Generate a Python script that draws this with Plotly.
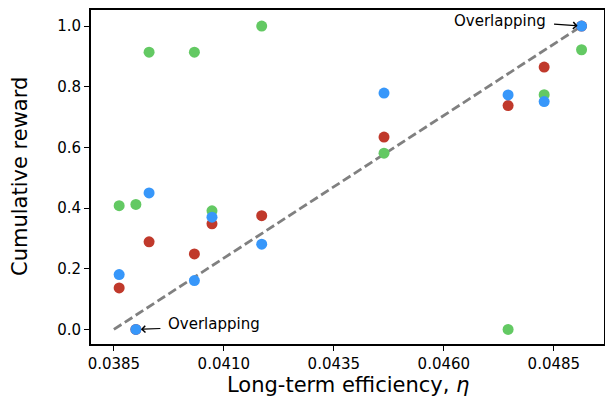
import plotly.graph_objects as go

# Data
eta = [0.03862, 0.03900, 0.03930, 0.04033, 0.04073, 0.04186, 0.04464, 0.04746, 0.04828, 0.04913]
reward_green = [0.408, 0.412, 0.914, 0.914, 0.391, 1.000, 0.581, 0.000, 0.774, 0.922]
reward_red = [0.137, 0.000, 0.289, 0.249, 0.348, 0.375, 0.634, 0.738, 0.865, 1.000]
reward_blue = [0.181, 0.000, 0.450, 0.161, 0.370, 0.281, 0.779, 0.773, 0.751, 1.000]
ref_x = [0.0385, 0.04913]
ref_y = [0.0, 1.0]
x_ticks = [0.0385, 0.0410, 0.0435, 0.0460, 0.0485]
x_tick_text = ["0.0385", "0.0410", "0.0435", "0.0460", "0.0485"]
y_ticks = [0.0, 0.2, 0.4, 0.6, 0.8, 1.0]
y_tick_text = ["0.0", "0.2", "0.4", "0.6", "0.8", "1.0"]

FONT = "DejaVu Sans"

fig = go.Figure()
fig.add_trace(go.Scatter(x=ref_x, y=ref_y, mode="lines",
                         line=dict(color="#808080", width=2.8, dash="9px,4px"),
                         showlegend=False, hoverinfo="skip"))
for vals, col in [(reward_green, "#63c963"), (reward_red, "#c0392b"), (reward_blue, "#3797fa")]:
    fig.add_trace(go.Scatter(x=eta, y=vals, mode="markers",
                             marker=dict(color=col, size=11, line=dict(width=0)),
                             showlegend=False))

fig.add_annotation(x=eta[-1], y=reward_blue[-1], text="", showarrow=True,
                   arrowhead=4, arrowsize=1.1, arrowwidth=1.2, arrowcolor="black",
                   ax=-29, ay=-2, standoff=4)
fig.add_annotation(x=eta[-1], y=reward_blue[-1], text="Overlapping", showarrow=False,
                   xanchor="right", yanchor="middle", xshift=-34, yshift=5,
                   font=dict(family=FONT, size=15, color="black"))
fig.add_annotation(x=eta[1], y=reward_blue[1], text="", showarrow=True,
                   arrowhead=4, arrowsize=1.1, arrowwidth=1.2, arrowcolor="black",
                   ax=26, ay=-1, standoff=5)
fig.add_annotation(x=eta[1], y=reward_blue[1], text="Overlapping", showarrow=False,
                   xanchor="left", yanchor="middle", xshift=30, yshift=5,
                   font=dict(family=FONT, size=15, color="black"))

# Axis titles as annotations for precise placement
fig.add_annotation(xref="paper", yref="paper", x=0.5, y=0, yshift=-41,
                   text="Long-term efficiency, <i>η</i>", showarrow=False,
                   xanchor="center", yanchor="middle",
                   font=dict(family=FONT, size=21, color="black"))
fig.add_annotation(xref="paper", yref="paper", x=0, y=0.5, xshift=-71,
                   text="Cumulative reward", showarrow=False, textangle=-90,
                   xanchor="center", yanchor="middle",
                   font=dict(family=FONT, size=21, color="black"))

axis_common = dict(showgrid=False, zeroline=False, showline=True, linecolor="black",
                   linewidth=1.8, mirror=True, ticks="outside", ticklen=5, tickwidth=1.2,
                   tickcolor="black", tickfont=dict(family=FONT, size=15, color="black"),
                   automargin=False)

fig.update_xaxes(range=[0.03798, 0.04964], tickvals=x_ticks, ticktext=x_tick_text,
                 **axis_common)
fig.update_yaxes(range=[-0.048, 1.053], tickvals=y_ticks, ticktext=y_tick_text,
                 **axis_common)

fig.update_layout(width=605, height=397,
                  margin=dict(l=91, r=1, t=10, b=53, autoexpand=False),
                  paper_bgcolor="white", plot_bgcolor="white",
                  font=dict(family=FONT))

fig.write_html("out.html", config={"displayModeBar": False},
               post_script="document.body.style.margin='0px';document.body.style.overflow='hidden';")
